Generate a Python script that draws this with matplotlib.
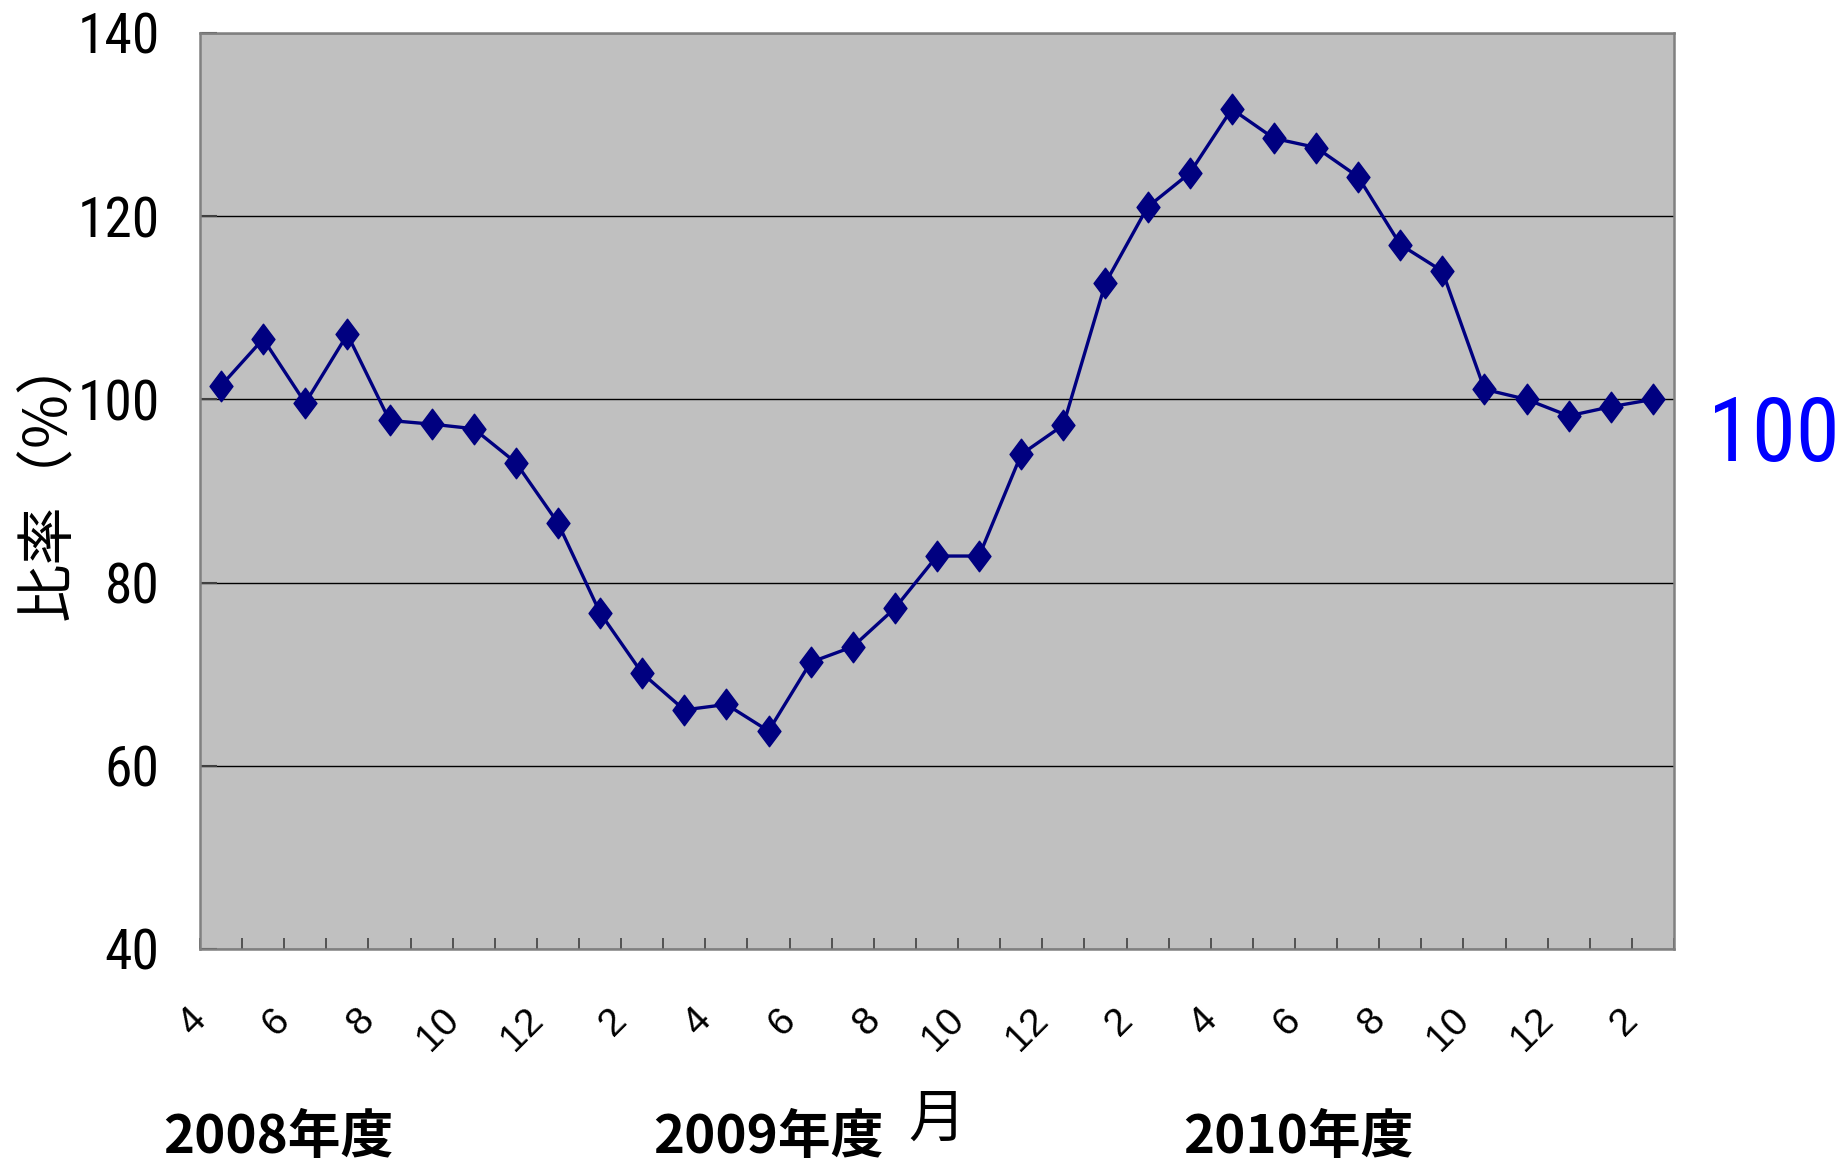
import numpy as np
import matplotlib
matplotlib.use("Agg")
import matplotlib.pyplot as plt
from matplotlib import font_manager
from matplotlib.transforms import ScaledTranslation
from matplotlib.path import Path

# ---------------- data ----------------
months = [4, 5, 6, 7, 8, 9, 10, 11, 12, 1, 2, 3,
          4, 5, 6, 7, 8, 9, 10, 11, 12, 1, 2, 3,
          4, 5, 6, 7, 8, 9, 10, 11, 12, 1, 2]
ratio = [101.5, 106.6, 99.6, 107.1, 97.7, 97.3, 96.8, 93.1, 86.5, 76.7, 70.1, 66.1,
         66.7, 63.8, 71.3, 73.0, 77.2, 82.9, 82.9, 94.0, 97.2, 112.7, 121.0, 124.7,
         131.7, 128.5, 127.5, 124.3, 116.9, 114.0, 101.1, 100.0, 98.2, 99.2, 100.0]
y_ticks = [40, 60, 80, 100, 120, 140]
year_labels = ["2008年度", "2009年度", "2010年度"]
y_label = "比率（%）"
x_unit = "月"
ref_text = "100"

# ---------------- fonts ----------------
available = {f.name for f in font_manager.fontManager.ttflist}
def pick(cands):
    for c in cands:
        if c in available:
            return c
    return "DejaVu Sans"
narrow = pick(["Liberation Sans Narrow", "DejaVu Sans Condensed", "Roboto Condensed",
               "Open Sans Condensed", "Liberation Sans"])
regular = pick(["Liberation Sans", "Arial", "DejaVu Sans"])
cjk = ["Noto Sans CJK JP", "DejaVu Sans"]

W, H, DPI = 1847, 1170, 100
fig = plt.figure(figsize=(W / DPI, H / DPI), dpi=DPI)
fig.patch.set_facecolor("white")
ax = fig.add_axes([200 / W, 1 - 949 / H, 1474 / W, 916 / H])
ax.set_facecolor("#C0C0C0")

x = np.arange(len(ratio))
diamond = Path([(0, 1), (0.75, 0), (0, -1), (-0.75, 0), (0, 1)],
               [Path.MOVETO, Path.LINETO, Path.LINETO, Path.LINETO, Path.CLOSEPOLY])
ax.plot(x, ratio, color="#000080", lw=2.4, marker=diamond, ms=22,
        mfc="#000080", mec="#000080", zorder=3, clip_on=False)

ax.set_xlim(-0.5, len(ratio) - 0.5)
ax.set_ylim(40, 140)
ax.set_yticks(y_ticks)
ax.yaxis.grid(True, color="black", lw=1.0)
ax.set_axisbelow(True)

for s in ax.spines.values():
    s.set_color("#808080")
    s.set_linewidth(1.8)

ax.tick_params(axis="y", direction="in", length=12, width=1.5, color="#404040",
               pad=29, labelsize=40)
for lab in ax.get_yticklabels():
    lab.set_fontfamily(narrow)

# x: labels at every other month, boundary ticks as minor ticks
ax.set_xticks(x[::2])
ax.set_xticklabels([str(m) for m in months[::2]], rotation=45, ha="right", va="top",
                   fontfamily=regular, fontsize=28)
ax.set_xticks(np.arange(-0.5, len(ratio), 1.0), minor=True)
ax.tick_params(axis="x", which="major", length=0, pad=38)
ax.tick_params(axis="x", which="minor", direction="in", length=8, width=1.2, color="#404040")
off = ScaledTranslation(-8 / DPI, 0, fig.dpi_scale_trans)
for lab in ax.get_xticklabels():
    lab.set_transform(lab.get_transform() + off)

# y label
fig.text(49 / W, 1 - 476 / H, y_label, rotation=90, ha="center", va="center",
         fontsize=42, family=cjk)

# year labels and month unit
for xc, t in zip([278, 768, 1298], year_labels):
    fig.text(xc / W, 1 - 1137 / H, t, ha="center", va="center", fontsize=38,
             family=cjk, fontweight="bold")
fig.text(937 / W, 1 - 1119 / H, x_unit, ha="center", va="center", fontsize=41, family=cjk)

# reference value label at right
fig.text(1774 / W, 1 - 437 / H, ref_text, ha="center", va="center", fontsize=64,
         color="#0000FF", family=narrow)

fig.savefig("out.png", dpi=DPI)
